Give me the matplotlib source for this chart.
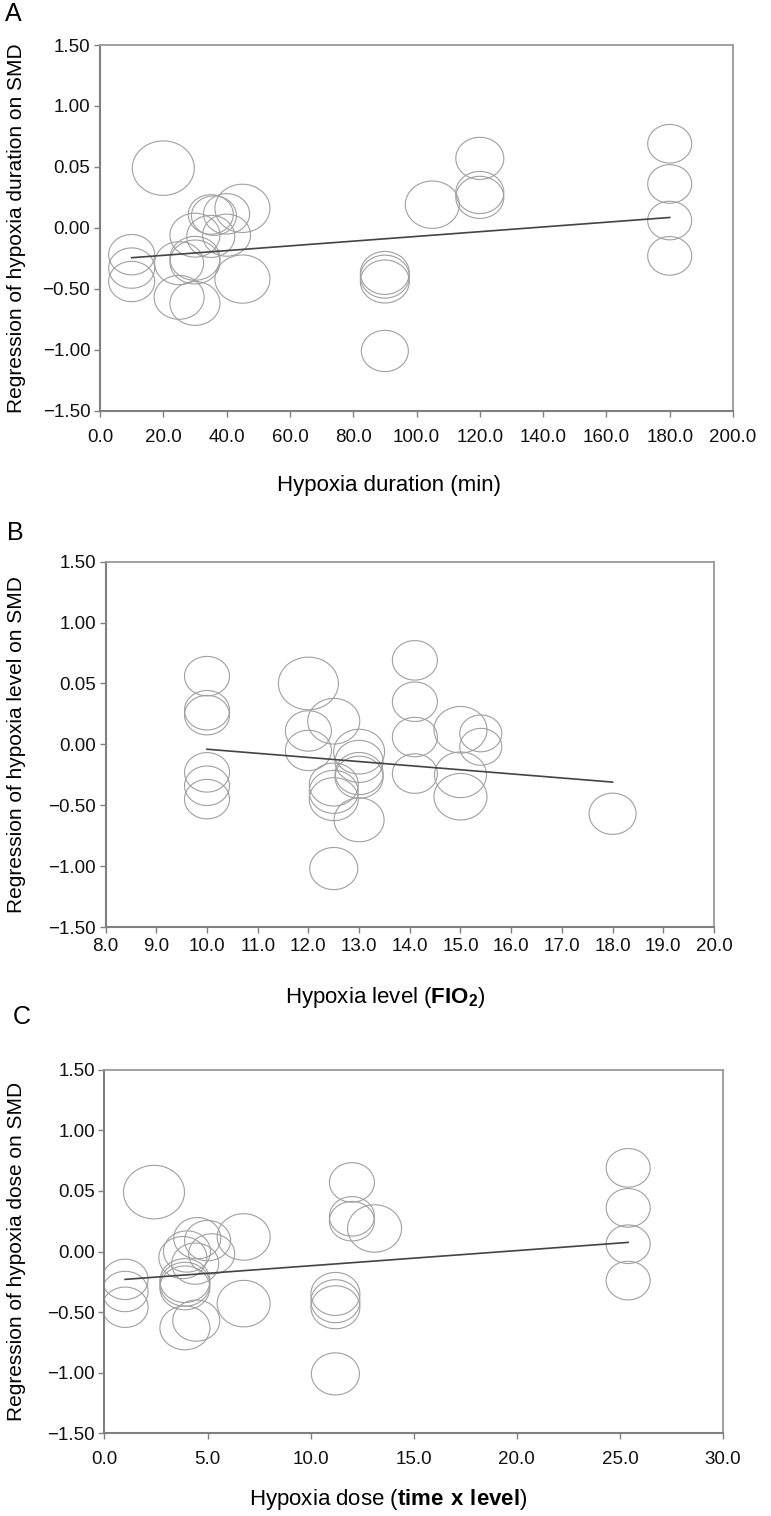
import numpy as np
import matplotlib
matplotlib.use("Agg")
import matplotlib.pyplot as plt
from matplotlib.path import Path

plt.rcParams['font.family'] = ['Liberation Sans', 'DejaVu Sans']
plt.rcParams['mathtext.fontset'] = 'custom'
plt.rcParams['mathtext.rm'] = 'Liberation Sans'
plt.rcParams['mathtext.bf'] = 'Liberation Sans:bold'

# ---------------- data ----------------
# Panel A: hypoxia duration (min)
a_x = [20, 10, 10, 10, 25, 25, 30, 30, 30, 30, 35, 36, 40, 45, 35, 40, 45,
       90, 90, 90, 90, 105, 120, 120, 120, 180, 180, 180, 180]
a_y = [0.49, -0.22, -0.33, -0.44, -0.29, -0.57, -0.62, -0.25, -0.28, -0.06,
       0.11, 0.10, 0.115, 0.16, -0.07, -0.06, -0.42,
       -0.37, -0.40, -0.44, -1.01, 0.19, 0.57, 0.29, 0.25, 0.69, 0.36, 0.06, -0.23]
a_w = [62, 46, 46, 46, 49, 50, 50, 50, 50, 50, 45, 45, 46, 55, 48, 48, 55,
       49, 49, 49, 47, 54, 48, 48, 48, 44, 44, 44, 44]
a_line_x = [10, 180]
a_line_y = [-0.245, 0.085]

# Panel B: hypoxia level (FIO2)
b_x = [10, 10, 10, 10, 10, 10, 12, 12, 12, 12.5, 12.5, 12.5, 12.5, 12.5,
       13, 13, 13, 13, 13, 14.1, 14.1, 14.1, 14.1, 15, 15, 15, 15.4, 15.4, 18]
b_y = [0.56, 0.28, 0.24, -0.23, -0.34, -0.45, 0.50, 0.11, -0.05, 0.19, -0.33,
       -0.39, -0.45, -1.02, -0.06, -0.14, -0.24, -0.27, -0.62, 0.69, 0.35, 0.06,
       -0.24, 0.12, -0.25, -0.43, 0.09, -0.02, -0.57]
b_w = [45, 45, 45, 45, 45, 45, 60, 46, 46, 52, 49, 49, 49, 48,
       51, 48, 48, 48, 50, 45, 45, 45, 45, 53, 52, 53, 42, 42, 47]
b_line_x = [10, 18]
b_line_y = [-0.04, -0.31]

# Panel C: hypoxia dose (time x level)
c_x = [2.4, 1.0, 1.0, 1.0, 3.9, 4.45, 3.9, 3.9, 3.9, 3.8, 4.5, 4.0, 5.0, 5.2,
       4.4, 6.75, 6.75, 11.2, 11.2, 11.2, 11.2, 13.1, 12.0, 12.0, 12.0,
       25.4, 25.4, 25.4, 25.4]
c_y = [0.49, -0.23, -0.33, -0.46, -0.63, -0.57, -0.24, -0.27, -0.30, -0.05,
       0.11, 0.0, 0.09, -0.02, -0.10, 0.12, -0.43, -0.35, -0.41, -0.46, -1.01,
       0.19, 0.57, 0.29, 0.25, 0.69, 0.36, 0.06, -0.24]
c_w = [61, 46, 46, 46, 50, 47, 50, 50, 50, 48, 47, 47, 46, 46, 47, 53, 53,
       49, 49, 49, 48, 54, 45, 45, 45, 44, 44, 44, 44]
c_line_x = [1.0, 25.4]
c_line_y = [-0.23, 0.075]

y_ticks = [1.5, 1.0, 0.5, 0.0, -0.5, -1.0, -1.5]
y_ticklabels = ['1.50', '1.00', '0.05', '0.00', '-0.50', '-1.00', '-1.50']
y_ticklabels = [t.replace('-', '\u2212') for t in y_ticklabels]

a_xticks = [0, 20, 40, 60, 80, 100, 120, 140, 160, 180, 200]
b_xticks = [8, 9, 10, 11, 12, 13, 14, 15, 16, 17, 18, 19, 20]
c_xticks = [0, 5, 10, 15, 20, 25, 30]

# ---------------- figure ----------------
W, H = 771, 1516
fig = plt.figure(figsize=(W / 100, H / 100), dpi=100)

theta = np.linspace(0, 2 * np.pi, 120)
ASP = 1.14
ell = Path(np.column_stack([ASP * np.cos(theta), np.sin(theta)]), closed=True)


def px_axes(l, t, r, b):
    return fig.add_axes([l / W, 1 - b / H, (r - l) / W, (b - t) / H])


def style(ax, xlim, xticks, xpad, left_px, right_px):
    ax.set_xlim(*xlim)
    ax.set_ylim(-1.5, 1.5)
    ax.set_yticks(y_ticks)
    ax.set_yticklabels(y_ticklabels)
    ax.set_xticks(xticks)
    ax.set_xticklabels([f"{v:.1f}" for v in xticks])
    for s in ['left', 'bottom']:
        ax.spines[s].set_color('#808080')
        ax.spines[s].set_linewidth(1.5)
    for s in ['top', 'right']:
        ax.spines[s].set_color('#9a9a9a')
        ax.spines[s].set_linewidth(1.3)
    ax.tick_params(axis='both', direction='out', length=4, width=1.0,
                   color='#808080', labelsize=13.5, labelcolor='#111111')
    ax.tick_params(axis='y', pad=3)
    ax.tick_params(axis='x', pad=xpad)
    ax.yaxis.set_label_coords((17 - left_px) / (right_px - left_px), 0.5)


def draw(ax, xs, ys, ws, lx, ly):
    sizes = [(w * 72 / 100) ** 2 for w in ws]
    ax.scatter(xs, ys, s=sizes, marker=ell, facecolors='none',
               edgecolors='#a0a0a0', linewidths=0.8, zorder=2)
    ax.plot(lx, ly, color='#444444', lw=1.2, zorder=3)


YL = 15
XL = 16

# Panel A
axA = px_axes(100, 45, 733, 410.7)
draw(axA, a_x, a_y, a_w, a_line_x, a_line_y)
axA.set_ylabel('Regression of hypoxia duration on SMD', fontsize=YL, va='center')
style(axA, (0, 200), a_xticks, 9, 100, 733)
fig.text(13 / W, 1 - 14 / H, 'A', fontsize=18, ha='center', va='center')
fig.text(389 / W, 1 - 485 / H, 'Hypoxia duration (min)', fontsize=XL,
         ha='center', va='center')

# Panel B
axB = px_axes(105.6, 561.7, 714, 927)
draw(axB, b_x, b_y, b_w, b_line_x, b_line_y)
axB.set_ylabel('Regression of hypoxia level on SMD', fontsize=YL, va='center')
style(axB, (8, 20), b_xticks, 4, 105.6, 714)
fig.text(15 / W, 1 - 533 / H, 'B', fontsize=18, ha='center', va='center')
fig.text(385 / W, 1 - 998 / H, r'Hypoxia level ($\mathbf{FIO_2}$)', fontsize=XL,
         ha='center', va='center')

# Panel C
axC = px_axes(104.5, 1069.7, 723, 1433.3)
draw(axC, c_x, c_y, c_w, c_line_x, c_line_y)
axC.set_ylabel('Regression of hypoxia dose on SMD', fontsize=YL, va='center')
style(axC, (0, 30), c_xticks, 9, 104.5, 723)
fig.text(22 / W, 1 - 1017 / H, 'C', fontsize=18, ha='center', va='center')
fig.text(388 / W, 1 - 1500 / H, r'Hypoxia dose ($\mathbf{time\ x\ level}$)',
         fontsize=XL, ha='center', va='center')

fig.savefig('out.png', dpi=100, facecolor='white')
